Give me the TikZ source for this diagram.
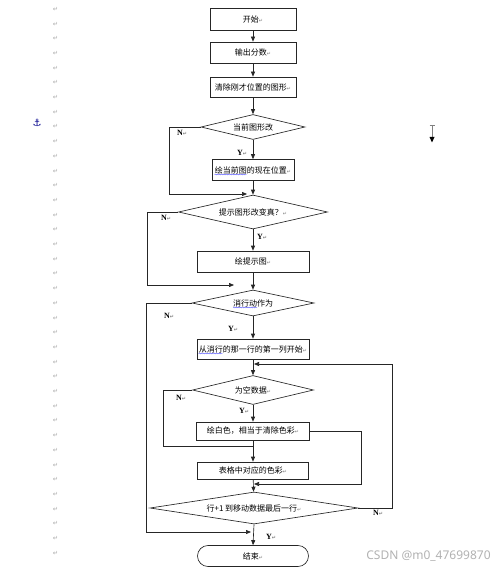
\documentclass[tikz,border=0pt]{standalone}
\usepackage{fontspec}
\setmainfont{Liberation Serif}
\newfontfamily\cjk{Noto Sans CJK SC}
\newfontfamily\dvs{DejaVu Sans}
\newfontfamily\wmfont{Noto Sans}
\usetikzlibrary{shapes.geometric,shapes.misc,arrows.meta,decorations.pathmorphing}
\newcommand{\retmk}{{\dvs\fontsize{5}{5}\selectfont\color{gray}↵}}
\tikzset{
  ln/.style={line width=0.65pt, draw=black!85},
  arr/.style={ln, -{Triangle[length=5pt,width=4pt]}},
  box/.style={ln, rectangle, inner sep=0pt, font=\cjk\fontsize{8}{9}\selectfont},
  dia/.style={ln, diamond, inner sep=0pt, shape aspect=4.5, font=\cjk\fontsize{8}{9}\selectfont},
  term/.style={ln, rounded rectangle, inner sep=0pt, font=\cjk\fontsize{8}{9}\selectfont},
  yn/.style={inner sep=0pt, font=\bfseries\fontsize{8}{8}\selectfont},
  spell/.style={blue!70, line width=0.35pt, decorate, decoration={snake, amplitude=0.45pt, segment length=2.2pt}},
  marg/.style={inner sep=0pt, text=gray!65, font=\dvs\fontsize{6.5}{6.5}\selectfont}
}
\begin{document}
\begin{tikzpicture}[x=1pt,y=-1pt]
\fill[white] (0,0) rectangle (499,569);
\useasboundingbox (0,0) rectangle (499,569);

% margin marks
\foreach \i in {0,...,37} \node[marg] (m\i) at (55.5,{9.3+14.7*\i}) {↵};
\node[inner sep=0pt, text=blue!55!black, font=\dvs\fontsize{10}{10}\selectfont] (anc) at (37,123) {⚓};

% cursor icon
\draw[gray, line width=1pt] (432,126) -- (432,137);
\draw[gray, line width=1pt] (429.5,126) -- (434.5,126);
\fill[black] (429.5,137) -- (434.5,137) -- (432,142.5) -- cycle;

% nodes
\node[box, minimum width=86pt, minimum height=22pt] (start) at (253,19) {开始\retmk};
\node[box, minimum width=86pt, minimum height=21pt] (out) at (253,52.5) {输出分数\retmk};
\node[box, minimum width=86pt, minimum height=20pt] (clear) at (253,87) {清除刚才位置的图形\retmk};
\node[dia, minimum width=104pt, minimum height=25pt] (d1) at (253,127) {当前图形改};
\node[box, minimum width=82pt, minimum height=21pt] (cur) at (253,170) {绘当前图的现在位置\retmk};
\node[dia, minimum width=149pt, minimum height=34pt] (d2) at (253,212) {提示图形改变真？\retmk};
\node[box, minimum width=112pt, minimum height=21pt] (hint) at (253,261.5) {绘提示图\retmk};
\node[dia, minimum width=122pt, minimum height=26pt] (d3) at (253,303) {消行动作为};
\node[box, minimum width=112pt, minimum height=20pt] (from) at (253,349) {从消行的那一行的第一列开始\retmk};
\node[dia, minimum width=121pt, minimum height=29pt] (d4) at (253,390) {为空数据\retmk};
\node[box, minimum width=113pt, minimum height=18pt] (white) at (253,431) {绘白色，相当于清除色彩\retmk};
\node[box, minimum width=111pt, minimum height=17pt] (table) at (253,470.5) {表格中对应的色彩\retmk};
\node[dia, minimum width=208pt, minimum height=32pt, shape aspect=6.5] (d5) at (254,508) {行+1 到移动数据最后一行\retmk};
\node[term, minimum width=111pt, minimum height=21pt] (end) at (253,556) {结束\retmk};

% junction coordinates
\coordinate (j1) at (247,194);
\coordinate (j2) at (234,285);
\coordinate (j3) at (251,532);
\coordinate (j4) at (254,364);
\coordinate (j5) at (253,446);
\coordinate (j6) at (254,484);

% main flow
\draw[arr] (start) -- (out);
\draw[arr] (out) -- (clear);
\draw[arr] (clear) -- (d1);
\draw[arr] (d1) -- (cur);
\draw[arr] (cur) -- (d2);
\draw[arr] (d2) -- (hint);
\draw[arr] (hint) -- (d3);
\draw[arr] (d3) -- (from);
\draw[arr] (from) -- (d4);
\draw[arr] (d4) -- (white);
\draw[arr] (white) -- (table);
\draw[arr] (table) -- (d5);
\draw[arr] (d5.south) -- (end.north);

% branches
\draw[arr] (d1.west) -- ++(-31,0) |- (j1);
\draw[arr] (d2.west) -- ++(-30.5,0) |- (j2);
\draw[arr] (d3.west) -- ++(-45,0) |- (j3);
\draw[arr] (d5.east) -- ++(34,0) |- (j4);
\draw[ln] (d4.west) -- ++(-28.5,0) |- (j5);
\draw[arr] (white.east) -- ++(51.5,0) |- (j6);

% labels
\node[yn] (n1) at (182,133) {N\retmk};
\node[yn] (y1) at (242,153) {Y\retmk};
\node[yn] (n2) at (166,218) {N\retmk};
\node[yn] (y2) at (262,237) {Y\retmk};
\node[yn] (n3) at (169,316) {N\retmk};
\node[yn] (y3) at (233,329) {Y\retmk};
\node[yn] (n4) at (181,398) {N\retmk};
\node[yn] (y4) at (244,411) {Y\retmk};
\node[yn] (n5) at (378,513) {N\retmk};
\node[yn] (y5) at (271,537) {Y\retmk};

% spell-check underlines
\draw[spell] (214.5,174.5) -- (246.5,174.5);
\draw[spell] (233,307.5) -- (257,307.5);
\draw[spell] (198.5,353.5) -- (222.5,353.5);

% watermark
\node[inner sep=0pt, text=gray!60, font=\wmfont\fontsize{12}{12}\selectfont] (wm) at (428.5,556.5) {CSDN @m0\_47699870};
\end{tikzpicture}
\end{document}
